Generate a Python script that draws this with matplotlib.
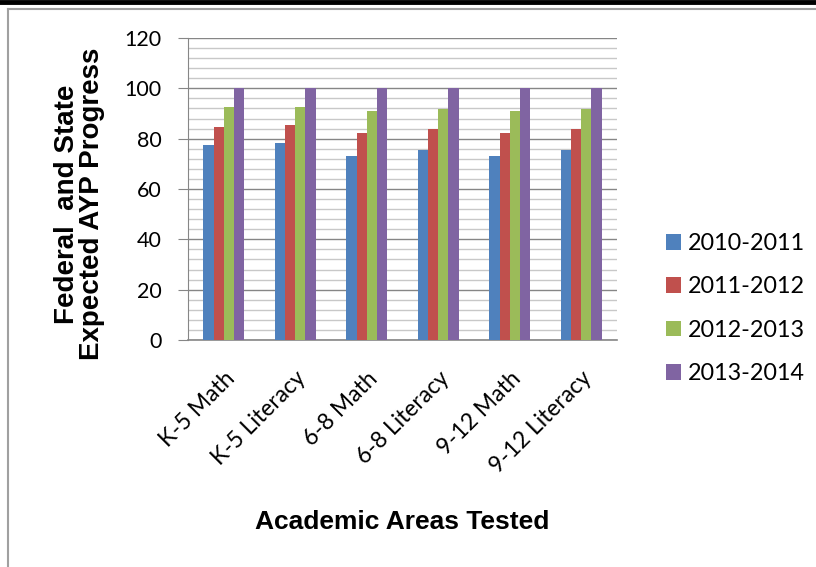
import matplotlib.pyplot as plt
import numpy as np
from matplotlib.lines import Line2D
from matplotlib.ticker import MultipleLocator

# Expected AYP progress targets by academic area and school year
areas = ['K-5 Math', 'K-5 Literacy', '6-8 Math', '6-8 Literacy', '9-12 Math', '9-12 Literacy']
years = ['2010-2011', '2011-2012', '2012-2013', '2013-2014']
y2010 = [77.4, 78.1, 73.2, 75.6, 73.2, 75.6]
y2011 = [84.8, 85.4, 82.1, 83.7, 82.1, 83.7]
y2012 = [92.4, 92.6, 91.0, 91.8, 91.0, 91.8]
y2013 = [100, 100, 100, 100, 100, 100]
y_ticks = [0, 20, 40, 60, 80, 100, 120]

colors = ['#4F81BD', '#C0504D', '#9BBB59', '#8064A2']

fig = plt.figure(figsize=(8.16, 5.67), dpi=100)
ax = fig.add_axes([188 / 816, 1 - 340 / 567, 429 / 816, 302 / 567])

x = np.arange(len(areas))
width = 0.142
series = [y2010, y2011, y2012, y2013]
for i, (vals, col, lab) in enumerate(zip(series, colors, years)):
    ax.bar(x + (i - 1.5) * width, vals, width, color=col, label=lab, zorder=3)

ax.set_xlim(-0.5, len(areas) - 0.5)
ax.set_ylim(0, 120)
ax.set_yticks(y_ticks)
ax.yaxis.set_minor_locator(MultipleLocator(4))
ax.grid(axis='y', which='major', color='#868686', linewidth=1.0, zorder=0)
ax.grid(axis='y', which='minor', color='#C8C8C8', linewidth=1.0, zorder=0)
ax.set_axisbelow(True)

for side in ['top', 'right']:
    ax.spines[side].set_visible(False)
ax.spines['left'].set_color('#868686')
ax.spines['bottom'].set_color('#868686')
ax.spines['bottom'].set_linewidth(1.2)

ax.tick_params(axis='y', which='major', length=7, color='#868686', pad=12,
               labelsize=15.5, labelfontfamily='Lato')
ax.tick_params(axis='y', which='minor', length=0)
ax.tick_params(axis='x', length=0, pad=20)
ax.set_xticks(x)
ax.set_xticklabels(areas, rotation=45, ha='right', va='top', rotation_mode='anchor',
                   fontsize=16.5, family='Lato')

ax.set_xlabel('Academic Areas Tested', fontsize=19, fontweight='bold',
              family='Liberation Sans', va='top')
ax.xaxis.set_label_coords(0.5, -0.563)
ax.set_ylabel('Federal  and State\nExpected AYP Progress', fontsize=20,
              fontweight='bold', family='Liberation Sans', linespacing=0.95)
ax.yaxis.set_label_coords(-0.193, 0.45)

leg = fig.legend(loc='upper left', bbox_to_anchor=(645 / 816, 1 - 212 / 567),
                 frameon=False, handlelength=0.64, handleheight=0.64,
                 labelspacing=0.96, handletextpad=0.3,
                 prop={'family': 'Lato', 'size': 16.8})

# outer frame: black band at the top, gray edge on the left and top
fig.add_artist(Line2D([0, 1], [1 - 2 / 567, 1 - 2 / 567], transform=fig.transFigure,
                      color='black', linewidth=3.5))
fig.add_artist(Line2D([8 / 816, 1], [1 - 8.5 / 567, 1 - 8.5 / 567], transform=fig.transFigure,
                      color='#A0A0A0', linewidth=1.5))
fig.add_artist(Line2D([8 / 816, 8 / 816], [0, 1 - 8.5 / 567], transform=fig.transFigure,
                      color='#A0A0A0', linewidth=1.5))

fig.savefig('out.png', dpi=100)
